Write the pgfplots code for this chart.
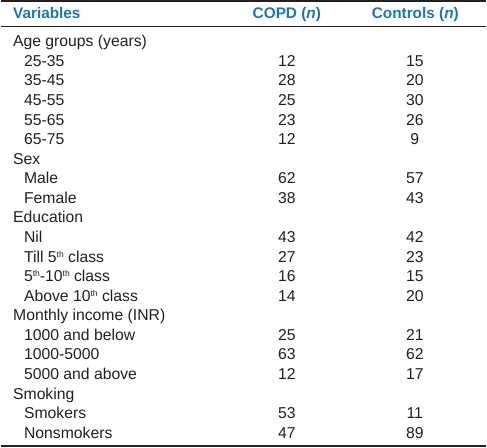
\documentclass[border=0pt]{standalone}
\usepackage{pgfplots}
\usepackage{pgfplotstable}
\usepackage{fontspec}
\setmainfont{Liberation Sans}
\pgfplotsset{compat=1.18}
\definecolor{hdr}{HTML}{1B75BB}
\definecolor{txt}{HTML}{231F20}
\newcommand{\tf}{\fontsize{15.8}{18}\selectfont}
\newcommand{\hf}{\fontsize{15.4}{18}\selectfont}
\newcommand{\sups}[1]{\raisebox{0.32em}{\fontsize{8.5}{10}\selectfont #1}}
\tikzset{cat/.style={anchor=base west, inner sep=0pt, font=\tf, text=txt}}
\pgfplotstableread{
row copd ctrl
1 12 15
2 28 20
3 25 30
4 23 26
5 12 9
7 62 57
8 38 43
10 43 42
11 27 23
12 16 15
13 14 20
15 25 21
16 63 62
17 12 17
19 53 11
20 47 89
}\datatab
\begin{document}
\begin{tikzpicture}
\begin{axis}[
  width=487pt, height=449pt, scale only axis,
  xmin=0, xmax=487, ymin=0, ymax=449, y dir=reverse,
  hide axis, clip=false,
  every node near coord/.style={anchor=base, inner sep=0pt, outer sep=0pt, font=\tf, text=txt},
]
\path (axis cs:0,0) rectangle (axis cs:487,449);
\addplot[txt, line width=2pt, forget plot] coordinates {(0,1) (487,1)};
\addplot[txt, line width=1.3pt, forget plot] coordinates {(0,26.6) (487,26.6)};
\addplot[txt, line width=1.3pt, forget plot] coordinates {(0,447.7) (487,447.7)};
\addplot[only marks, mark=none, nodes near coords, point meta=explicit symbolic]
  table[x expr=287, y expr={47+19.65*\thisrow{row}}, meta=copd] {\datatab};
\addplot[only marks, mark=none, nodes near coords, point meta=explicit symbolic]
  table[x expr=415.5, y expr={47+19.65*\thisrow{row}}, meta=ctrl] {\datatab};
\node[anchor=base west, inner sep=0pt, font=\hf\bfseries, text=hdr] at (axis cs:12,18.3) {Variables};
\node[anchor=base, inner sep=0pt, font=\hf\bfseries, text=hdr] at (axis cs:287,18.3) {COPD (\textit{n})};
\node[anchor=base, inner sep=0pt, font=\hf\bfseries, text=hdr] at (axis cs:416,18.3) {Controls (\textit{n})};
\node[cat] at (axis cs:12,47) {Age groups (years)};
\node[cat] at (axis cs:23,66.65) {25-35};
\node[cat] at (axis cs:23,86.3) {35-45};
\node[cat] at (axis cs:23,105.95) {45-55};
\node[cat] at (axis cs:23,125.6) {55-65};
\node[cat] at (axis cs:23,145.25) {65-75};
\node[cat] at (axis cs:12,164.9) {Sex};
\node[cat] at (axis cs:23,184.55) {Male};
\node[cat] at (axis cs:23,204.2) {Female};
\node[cat] at (axis cs:12,223.85) {Education};
\node[cat] at (axis cs:23,243.5) {Nil};
\node[cat] at (axis cs:23,263.15) {Till 5\sups{th} class};
\node[cat] at (axis cs:23,282.8) {5\sups{th}-10\sups{th} class};
\node[cat] at (axis cs:23,302.45) {Above 10\sups{th} class};
\node[cat] at (axis cs:12,322.1) {Monthly income (INR)};
\node[cat] at (axis cs:23,341.75) {1000 and below};
\node[cat] at (axis cs:23,361.4) {1000-5000};
\node[cat] at (axis cs:23,381.05) {5000 and above};
\node[cat] at (axis cs:12,400.7) {Smoking};
\node[cat] at (axis cs:23,420.35) {Smokers};
\node[cat] at (axis cs:23,440) {Nonsmokers};
\end{axis}
\end{tikzpicture}
\end{document}
